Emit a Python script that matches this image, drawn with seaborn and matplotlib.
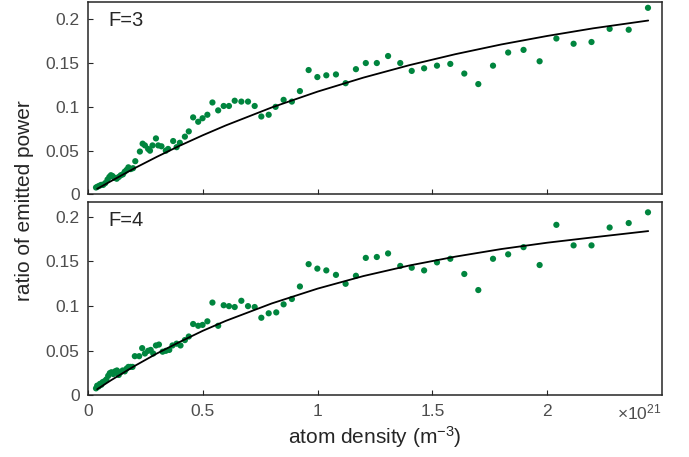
import matplotlib
matplotlib.use("Agg")
import matplotlib.pyplot as plt
import seaborn as sns

# ---------------------------------------------------------------------------
# Données (densité en unités de 1e21 m^-3)
# ---------------------------------------------------------------------------

# F=3 : points mesurés
density_f3 = [0.035, 0.042, 0.050, 0.058, 0.066, 0.075, 0.085, 0.093, 0.100, 0.107,
              0.115, 0.125, 0.134, 0.143, 0.152, 0.160, 0.168, 0.176, 0.186, 0.196,
              0.206, 0.226, 0.238, 0.248, 0.262, 0.270, 0.281, 0.296, 0.306, 0.320,
              0.339, 0.349, 0.371, 0.386, 0.400, 0.422, 0.439, 0.458, 0.480, 0.499,
              0.520, 0.542, 0.567, 0.591, 0.614, 0.639, 0.668, 0.697, 0.726, 0.755,
              0.787, 0.817, 0.852, 0.888, 0.923, 0.961, 0.999, 1.038, 1.080, 1.122,
              1.167, 1.210, 1.258, 1.307, 1.360, 1.410, 1.464, 1.520, 1.578, 1.639,
              1.700, 1.764, 1.830, 1.897, 1.967, 2.040, 2.115, 2.193, 2.272, 2.355,
              2.439]
ratio_f3 = [0.008, 0.009, 0.010, 0.011, 0.011, 0.013, 0.017, 0.020, 0.022, 0.021,
            0.019, 0.018, 0.020, 0.022, 0.023, 0.026, 0.028, 0.031, 0.029, 0.030,
            0.038, 0.049, 0.058, 0.056, 0.052, 0.050, 0.056, 0.064, 0.056, 0.055,
            0.050, 0.052, 0.061, 0.054, 0.059, 0.066, 0.072, 0.088, 0.083, 0.087,
            0.091, 0.105, 0.096, 0.101, 0.101, 0.107, 0.106, 0.106, 0.101, 0.089,
            0.091, 0.100, 0.108, 0.106, 0.118, 0.142, 0.134, 0.136, 0.137, 0.127,
            0.143, 0.150, 0.150, 0.158, 0.150, 0.141, 0.144, 0.147, 0.149, 0.138,
            0.126, 0.147, 0.162, 0.165, 0.152, 0.178, 0.172, 0.174, 0.189, 0.188,
            0.213]

# F=4 : points mesurés
density_f4 = [0.035, 0.040, 0.046, 0.052, 0.058, 0.064, 0.072, 0.080, 0.088, 0.095,
              0.102, 0.110, 0.118, 0.126, 0.134, 0.142, 0.151, 0.160, 0.168, 0.176,
              0.185, 0.194, 0.204, 0.223, 0.236, 0.248, 0.262, 0.273, 0.284, 0.296,
              0.309, 0.325, 0.339, 0.354, 0.368, 0.386, 0.403, 0.422, 0.439, 0.458,
              0.480, 0.499, 0.520, 0.542, 0.567, 0.591, 0.614, 0.639, 0.668, 0.697,
              0.726, 0.755, 0.787, 0.820, 0.852, 0.888, 0.923, 0.961, 0.999, 1.038,
              1.080, 1.122, 1.167, 1.210, 1.258, 1.307, 1.360, 1.410, 1.464, 1.520,
              1.578, 1.639, 1.700, 1.764, 1.830, 1.897, 1.967, 2.040, 2.115, 2.193,
              2.272, 2.355, 2.439]
ratio_f4 = [0.008, 0.011, 0.010, 0.013, 0.012, 0.015, 0.016, 0.018, 0.022, 0.025,
            0.026, 0.024, 0.027, 0.028, 0.023, 0.026, 0.028, 0.027, 0.030, 0.032,
            0.032, 0.032, 0.044, 0.044, 0.053, 0.047, 0.050, 0.051, 0.047, 0.056,
            0.057, 0.049, 0.050, 0.051, 0.056, 0.058, 0.056, 0.062, 0.066, 0.080,
            0.078, 0.079, 0.083, 0.104, 0.078, 0.101, 0.100, 0.099, 0.106, 0.100,
            0.099, 0.087, 0.092, 0.093, 0.102, 0.108, 0.122, 0.147, 0.142, 0.140,
            0.135, 0.125, 0.134, 0.154, 0.155, 0.159, 0.145, 0.143, 0.140, 0.149,
            0.153, 0.136, 0.118, 0.153, 0.158, 0.166, 0.146, 0.191, 0.168, 0.168,
            0.188, 0.193, 0.205]

# Courbes d'ajustement
fit_density = [0.04, 0.1, 0.2, 0.3, 0.4, 0.5, 0.6, 0.8, 1.0, 1.2, 1.4, 1.6, 1.8,
               2.0, 2.2, 2.44]
fit_f3 = [0.0065, 0.0152, 0.0296, 0.0430, 0.0557, 0.0676, 0.0788, 0.0993, 0.1174,
          0.1334, 0.1476, 0.1601, 0.1712, 0.1809, 0.1896, 0.1985]
fit_f4 = [0.0070, 0.0170, 0.0326, 0.0470, 0.0600, 0.0724, 0.0835, 0.1030, 0.1196,
          0.1337, 0.1455, 0.1554, 0.1639, 0.1710, 0.1770, 0.1840]

panel_labels = ["F=3", "F=4"]
x_ticks = [0, 0.5, 1, 1.5, 2]
x_tick_labels = ["0", "0.5", "1", "1.5", "2"]
y_ticks = [0, 0.05, 0.1, 0.15, 0.2]
y_tick_labels = ["0", "0.05", "0.1", "0.15", "0.2"]

# ---------------------------------------------------------------------------
# Style
# ---------------------------------------------------------------------------
sns.set_style("ticks", {"xtick.direction": "in", "ytick.direction": "in"})
plt.rcParams["font.family"] = ["Liberation Sans", "DejaVu Sans"]
plt.rcParams["mathtext.fontset"] = "custom"
plt.rcParams["mathtext.rm"] = "Liberation Sans"
plt.rcParams["mathtext.it"] = "Liberation Sans:italic"

GREEN = "#00853e"
FRAME = "#262626"
TICK_TXT = "#4d4d4d"

fig = plt.figure(figsize=(6.89, 4.57), dpi=100)
ax_top = fig.add_axes([0.1277, 0.5744, 0.8331, 0.4219])
ax_bot = fig.add_axes([0.1277, 0.1346, 0.8331, 0.4223])

panels = [
    (ax_top, density_f3, ratio_f3, fit_f3, 0.22),
    (ax_bot, density_f4, ratio_f4, fit_f4, 0.216),
]

for i, (ax, dens, ratio, fit, ytop) in enumerate(panels):
    sns.scatterplot(x=dens, y=ratio, ax=ax, color=GREEN, s=20,
                    edgecolor="none", zorder=2)
    sns.lineplot(x=fit_density, y=fit, ax=ax, color="black", lw=1.3, zorder=3)
    ax.set_xlim(0, 2.5)
    ax.set_ylim(0, ytop)
    ax.set_xticks(x_ticks)
    ax.set_yticks(y_ticks)
    ax.set_yticklabels(y_tick_labels)
    ax.tick_params(length=3.5, width=0.8, color=FRAME, labelcolor=TICK_TXT,
                   labelsize=12.5, pad=6)
    for sp in ax.spines.values():
        sp.set_visible(True)
        sp.set_color(FRAME)
        sp.set_linewidth(1.1)
    ax.text(0.035, 0.905, panel_labels[i], transform=ax.transAxes,
            fontsize=14.5, color=FRAME, va="center", ha="left")

ax_top.set_xticklabels([])
ax_bot.set_xticklabels(x_tick_labels)
ax_bot.set_xlabel(r"atom density (m$^{\mathregular{-3}}$)", fontsize=15,
                  color=FRAME, labelpad=4)
fig.text(0.035, 0.56, "ratio of emitted power", rotation=90, fontsize=15,
         color=FRAME, ha="center", va="center")
ax_bot.text(1.0, -0.035, r"$\times\mathregular{10^{21}}$", transform=ax_bot.transAxes,
            ha="right", va="top", fontsize=12.5, color=TICK_TXT)

plt.savefig("out.png", dpi=100)
plt.close()
